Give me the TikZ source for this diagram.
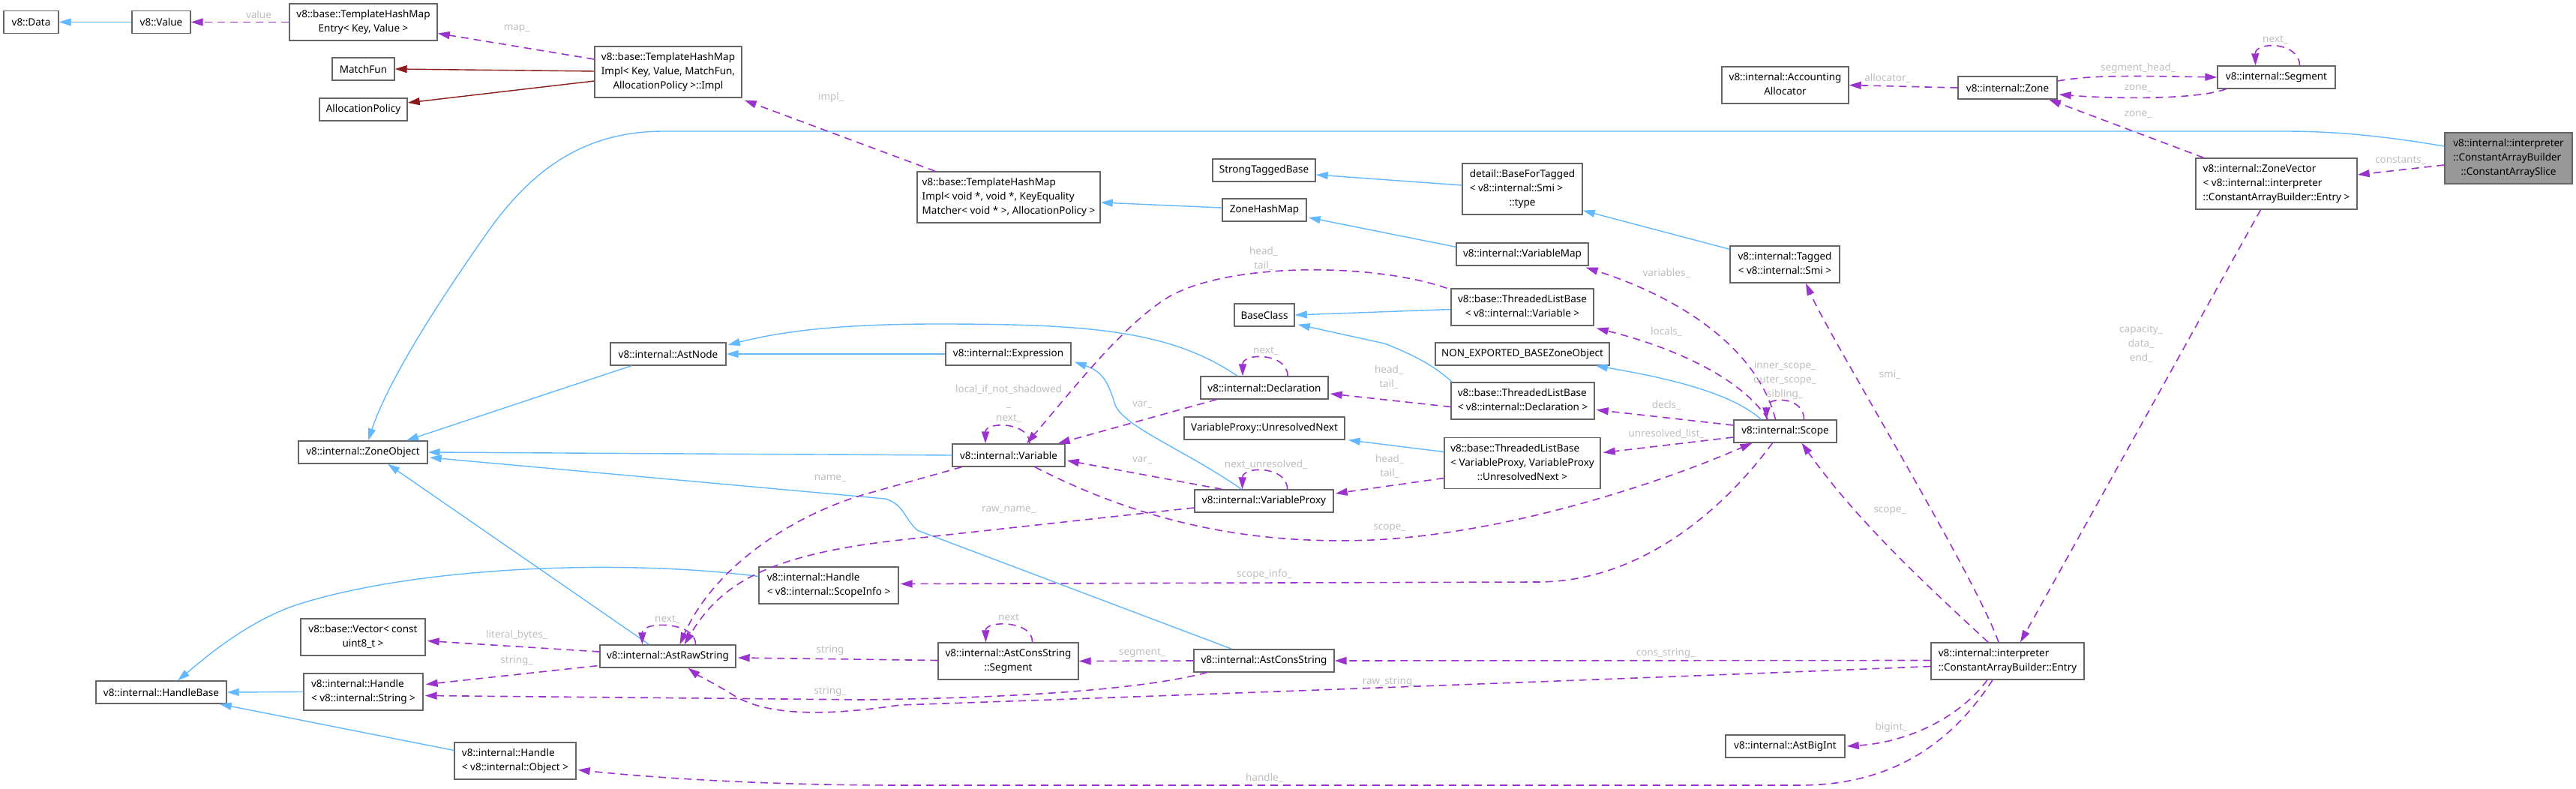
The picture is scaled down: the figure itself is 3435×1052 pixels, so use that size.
\documentclass[tikz,border=0pt]{standalone}
\usepackage{fontspec}
\setmainfont{Noto Sans}
\usetikzlibrary{arrows.meta,calc}
\definecolor{bluec}{RGB}{99,184,255}
\definecolor{purc}{RGB}{154,50,205}
\definecolor{redc}{RGB}{139,26,26}
\definecolor{boxc}{RGB}{102,102,102}
\definecolor{slicec}{RGB}{153,153,153}
\definecolor{lblc}{RGB}{190,190,190}
\newcommand\nf{\fontsize{6.75pt}{9.5pt}\selectfont}
\newcommand\mlines[1]{\begin{tabular}{@{}l@{}}#1\end{tabular}}
\newcommand\lastc[1]{\multicolumn{1}{@{}c@{}}{#1}}
\tikzset{
  cls/.style={draw=boxc, fill=white, line width=0.7pt, inner sep=0pt, font=\nf, text=black},
  lbl/.style={text=lblc, font=\nf, inner sep=0pt, align=center},
  inh/.style={draw=bluec, line width=0.7pt, -{Triangle[length=8pt,width=5pt]}},
  use/.style={draw=purc, line width=0.8pt, dash pattern=on 5pt off 3.5pt, -{Triangle[length=8pt,width=5pt]}},
  tmpl/.style={draw=redc, line width=0.7pt, -{Triangle[length=8pt,width=5pt]}}
}
\newcommand\cnode[6]{\node[cls, minimum width=#4*0.5pt, minimum height=#5*0.5pt] (#1) at (#2,#3) {#6};}
\newcommand\lab[4]{\node[lbl] (#1) at (#2,#3) {#4};}
\begin{document}
\begin{tikzpicture}[x=0.5pt,y=-0.5pt]
\useasboundingbox (0,0) rectangle (3435,1052);
% ---------- nodes ----------
\cnode{data}{41.5}{29.5}{73}{30}{v8::Data}
\cnode{value}{215}{29.5}{78}{30}{v8::Value}
\cnode{thmentry}{484.5}{29.5}{197}{49}{\mlines{v8::base::TemplateHashMap\\ \lastc{Entry< Key, Value >}}}
\cnode{matchfun}{484.5}{92}{83}{30}{MatchFun}
\cnode{allocpol}{484.5}{146}{117}{30}{AllocationPolicy}
\cnode{thmimpl}{891}{96}{196}{68}{\mlines{v8::base::TemplateHashMap\\Impl< Key, Value, MatchFun,\\ \lastc{AllocationPolicy >::Impl}}}
\cnode{thmvoid}{1345}{263}{244}{68}{\mlines{v8::base::TemplateHashMap\\Impl< void *, void *, KeyEquality\\ \lastc{Matcher< void * >, AllocationPolicy >}}}
\cnode{strongtb}{1685.5}{227}{137}{30}{StrongTaggedBase}
\cnode{zonehm}{1686}{280}{112}{30}{ZoneHashMap}
\cnode{bft}{2030}{252}{160}{68}{\mlines{detail::BaseForTagged\\< v8::internal::Smi >\\ \lastc{::type}}}
\cnode{accalloc}{2380.5}{113.5}{169}{49}{\mlines{v8::internal::Accounting\\ \lastc{Allocator}}}
\cnode{zone}{2677}{117}{132}{30}{v8::internal::Zone}
\cnode{segment}{3035.5}{103}{157}{30}{v8::internal::Segment}
\node[cls, fill=slicec, minimum width=85pt, minimum height=34pt] (slice) at (3345,211) {\mlines{v8::internal::interpreter\\::ConstantArrayBuilder\\ \lastc{::ConstantArraySlice}}};
\cnode{zonevector}{3035.5}{245}{215}{68}{\mlines{v8::internal::ZoneVector\\< v8::internal::interpreter\\ \lastc{::ConstantArrayBuilder::Entry >}}}
\cnode{tagged}{2380}{352.5}{146}{49}{\mlines{v8::internal::Tagged\\ \lastc{< v8::internal::Smi >}}}
\cnode{varmap}{2030}{339}{176}{30}{v8::internal::VariableMap}
\cnode{tlbvar}{2030}{409.5}{190}{49}{\mlines{v8::base::ThreadedListBase\\ \lastc{< v8::internal::Variable >}}}
\cnode{baseclass}{1686}{420}{80}{30}{BaseClass}
\cnode{nonexp}{2030}{472}{232}{30}{NON\_EXPORTED\_BASEZoneObject}
\cnode{astnode}{891}{472}{154}{30}{v8::internal::AstNode}
\cnode{expression}{1344.5}{472}{167}{30}{v8::internal::Expression}
\cnode{declaration}{1686}{517}{170}{30}{v8::internal::Declaration}
\cnode{tlbdecl}{2030.5}{534.5}{191}{49}{\mlines{v8::base::ThreadedListBase\\ \lastc{< v8::internal::Declaration >}}}
\cnode{unresnext}{1686}{571}{214}{30}{VariableProxy::UnresolvedNext}
\cnode{tlbvp}{2030}{617.5}{208}{68}{\mlines{v8::base::ThreadedListBase\\< VariableProxy, VariableProxy\\ \lastc{::UnresolvedNext >}}}
\cnode{scope}{2380.5}{575}{137}{30}{v8::internal::Scope}
\cnode{zoneobject}{484}{603}{172}{30}{v8::internal::ZoneObject}
\cnode{variable}{1345}{607}{150}{30}{v8::internal::Variable}
\cnode{varproxy}{1685.5}{668}{185}{30}{v8::internal::VariableProxy}
\cnode{hscopeinfo}{1105}{780.5}{186}{49}{\mlines{v8::internal::Handle\\ \lastc{< v8::internal::ScopeInfo >}}}
\cnode{vector}{484}{849.5}{166}{49}{\mlines{v8::base::Vector< const\\ \lastc{uint8\_t >}}}
\cnode{astraw}{890.5}{875}{181}{30}{v8::internal::AstRawString}
\cnode{handlebase}{215}{923}{174}{30}{v8::internal::HandleBase}
\cnode{hstring}{484.5}{922.5}{159}{49}{\mlines{v8::internal::Handle\\ \lastc{< v8::internal::String >}}}
\cnode{consseg}{1344.5}{881.5}{187}{49}{\mlines{v8::internal::AstConsString\\ \lastc{::Segment}}}
\cnode{astcons}{1685.5}{881}{187}{30}{v8::internal::AstConsString}
\cnode{entry}{2677}{881.5}{204}{49}{\mlines{v8::internal::interpreter\\ \lastc{::ConstantArrayBuilder::Entry}}}
\cnode{bigint}{2380.5}{995}{159}{30}{v8::internal::AstBigInt}
\cnode{hobject}{687}{1014.5}{162}{49}{\mlines{v8::internal::Handle\\ \lastc{< v8::internal::Object >}}}
% ---------- inheritance ----------
\draw[inh] (value.west) -- (data.east);
\draw[inh] ($(slice.west)+(0,-16)$) .. controls (3170,180) and (3110,175) .. (3043,175) -- (886,175) .. controls (790,175) and (720,215) .. (657,300) .. controls (600,380) and (520,500) .. ($(zoneobject.north)+(7,0)$);
\draw[inh] ($(astnode.south)+(-49,0)$) -- ($(zoneobject.north)+(58,0)$);
\draw[inh] (expression.west) -- (astnode.east);
\draw[inh] ($(declaration.north)+(-36,0)$) .. controls (1560,440) and (1450,432) .. (1250,432) .. controls (1100,432) and (1030,445) .. ($(astnode.east)+(2,-12)$);
\draw[inh] (variable.west) -- (zoneobject.east);
\draw[inh] ($(varproxy.north)+(-30,0)$) .. controls (1580,600) and (1500,570) .. (1487,540) .. controls (1478,510) and (1470,495) .. ($(expression.south east)+(4,-5)$);
\draw[inh] ($(astraw.north)+(-25,0)$) -- ($(zoneobject.south)+(33,0)$);
\draw[inh] ($(astcons.north)+(-43,0)$) -- (1223,707) .. controls (1205,690) and (1205,672) .. (1180,665) -- ($(zoneobject.east)+(2,7)$);
\draw[inh] ($(hscopeinfo.west)+(0,-12)$) .. controls (830,745) and (560,755) .. (400,805) .. controls (330,827) and (270,880) .. ($(handlebase.north)+(22,0)$);
\draw[inh] (hstring.west) -- (handlebase.east);
\draw[inh] ($(hobject.west)+(0,-14)$) -- ($(handlebase.south east)+(-10,0)$);
\draw[inh] ($(bft.west)+(0,-5)$) -- ($(strongtb.east)+(0,6)$);
\draw[inh] ($(zonehm.west)+(0,-3)$) -- ($(thmvoid.east)+(0,7)$);
\draw[inh] ($(varmap.north west)+(0,6)$) -- ($(zonehm.east)+(2,10)$);
\draw[inh] ($(tagged.north west)+(0,5)$) -- ($(bft.south east)+(0,-6)$);
\draw[inh] ($(tlbvar.west)+(0,3)$) -- (baseclass.east);
\draw[inh] ($(tlbdecl.north west)+(2,0)$) .. controls (1915,490) and (1890,475) .. (1846,458) -- ($(baseclass.south east)+(4,-3)$);
\draw[inh] ($(tlbvp.west)+(0,-15)$) -- ($(unresnext.south east)+(4,0)$);
\draw[inh] ($(scope.north)+(-32,0)$) .. controls (2310,525) and (2230,505) .. ($(nonexp.south east)+(-19,0)$);
% ---------- template ----------
\draw[tmpl] ($(thmimpl.west)+(0,-1)$) -- (matchfun.east);
\draw[tmpl] ($(thmimpl.west)+(0,12)$) -- ($(allocpol.east)+(0,-9)$);
% ---------- usage ----------
\draw[use] (thmentry.west) -- (value.east);
\draw[use] ($(thmimpl.west)+(0,-17)$) -- ($(thmentry.east)+(0,15)$);
\draw[use] ($(thmvoid.north)+(-98,0)$) -- ($(thmimpl.south east)+(3,3)$);
\draw[use] (zone.west) -- (accalloc.east);
\draw[use] ($(zone.east)+(0,-9)$) .. controls (2790,100) and (2840,101) .. (segment.west);
\draw[use] ($(segment.south west)+(12,0)$) .. controls (2930,133) and (2820,132) .. ($(zone.east)+(2,9)$);
\draw[use] ($(segment.north)+(31,0)$) .. controls (3066,55) and (3007,55) .. ($(segment.north)+(-28,0)$);
\draw[use] ($(zonevector.north)+(-97,0)$) -- ($(zone.south)+(55,0)$);
\draw[use] ($(slice.west)+(0,9)$) -- ($(zonevector.east)+(0,-12)$);
\draw[use] ($(zonevector.south)+(-21,0)$) -- ($(entry.north)+(17,0)$);
\draw[use] ($(entry.north)+(-12,0)$) .. controls (2635,770) and (2440,450) .. ($(tagged.south)+(28,0)$);
\draw[use] ($(entry.north)+(-26,0)$) .. controls (2580,790) and (2480,700) .. ($(scope.south)+(22,0)$);
\draw[use] ($(entry.south)+(-27,0)$) .. controls (2610,960) and (2540,990) .. ($(bigint.east)+(2,0)$);
\draw[use] ($(entry.south)+(-20,0)$) .. controls (2590,1010) and (2500,1047) .. (2400,1047) -- (1200,1047) .. controls (1000,1047) and (850,1035) .. ($(hobject.east)+(2,12)$);
\draw[use] ($(entry.west)+(0,-1)$) -- (astcons.east);
\draw[use] ($(entry.west)+(0,7)$) .. controls (2300,900) and (1500,930) .. (1200,940) .. controls (1100,955) and (1020,955) .. (975,925) .. controls (950,910) and (930,900) .. ($(astraw.south)+(27,0)$);
\draw[use] ($(astcons.south)+(-76,0)$) .. controls (1540,915) and (1400,930) .. (1150,933) -- ($(hstring.east)+(2,5)$);
\draw[use] ($(consseg.west)+(0,-1)$) -- ($(astraw.east)+(2,2)$);
\draw[use] (astcons.west) -- (consseg.east);
\draw[use] ($(consseg.north)+(32,0)$) .. controls (1378,827) and (1314,827) .. ($(consseg.north)+(-30,0)$);
\draw[use] ($(astraw.west)+(0,-6)$) -- ($(vector.east)+(2,5)$);
\draw[use] ($(astraw.south west)+(-3,-3)$) -- ($(hstring.east)+(3,-10)$);
\draw[use] ($(astraw.north)+(37,0)$) .. controls (928,828) and (856,828) .. ($(astraw.north)+(-34,0)$);
\draw[use] ($(variable.south west)+(13,0)$) -- (1150,660) .. controls (1050,690) and (950,760) .. ($(astraw.north)+(16,0)$);
\draw[use] ($(varproxy.west)+(0,9)$) -- (1200,720) .. controls (1020,740) and (960,780) .. ($(astraw.north)+(22,0)$);
\draw[use] ($(variable.north)+(28,0)$) .. controls (1373,562) and (1314,562) .. ($(variable.north)+(-31,0)$);
\draw[use] ($(tlbvar.north west)+(-5,0)$) .. controls (1830,350) and (1640,350) .. (1560,395) .. controls (1500,430) and (1430,520) .. ($(variable.north)+(24,0)$);
\draw[use] ($(declaration.south west)+(22,0)$) -- ($(variable.north east)+(-10,0)$);
\draw[use] ($(declaration.north)+(31,0)$) .. controls (1717,470) and (1657,470) .. ($(declaration.north)+(-29,0)$);
\draw[use] ($(tlbdecl.west)+(0,8)$) -- ($(declaration.east)+(2,8)$);
\draw[use] ($(varproxy.north west)+(37,0)$) -- ($(variable.east)+(2,7)$);
\draw[use] ($(varproxy.north)+(31,0)$) .. controls (1717,621) and (1657,621) .. ($(varproxy.north)+(-29,0)$);
\draw[use] ($(tlbvp.west)+(0,20)$) -- ($(varproxy.east)+(2,-10)$);
\draw[use] ($(scope.north)+(-13,0)$) .. controls (2345,470) and (2250,400) .. ($(varmap.south east)+(-4,2)$);
\draw[use] ($(scope.north)+(-23,0)$) .. controls (2320,500) and (2220,460) .. ($(tlbvar.south east)+(3,3)$);
\draw[use] ($(scope.west)+(0,-8)$) -- ($(tlbdecl.east)+(2,12)$);
\draw[use] ($(scope.west)+(0,8)$) -- ($(tlbvp.east)+(3,-14)$);
\draw[use] ($(scope.north)+(25,0)$) .. controls (2406,528) and (2355,528) .. ($(scope.north)+(-25,0)$);
\draw[use] ($(variable.south)+(35,0)$) .. controls (1550,710) and (1700,725) .. (1830,720) .. controls (2000,712) and (2200,650) .. ($(scope.south)+(-44,0)$);
\draw[use] ($(scope.south)+(-17,0)$) .. controls (2290,690) and (2180,776) .. (2050,776) -- ($(hscopeinfo.east)+(2,-2)$);
% ---------- labels ----------
\lab{l1}{345}{19}{value}
\lab{l2}{689}{38}{map\_}
\lab{l3}{1108}{130}{impl\_}
\lab{l4}{2517}{104}{allocator\_}
\lab{l5}{2851}{91}{segment\_head\_}
\lab{l6}{2851}{118}{zone\_}
\lab{l7}{3034}{53}{next\_}
\lab{l8}{2851}{153}{zone\_}
\lab{l9}{3201}{214}{constants\_}
\lab{l10}{2855}{459}{capacity\_\\data\_\\end\_}
\lab{l11}{2520}{500}{smi\_}
\lab{l12}{2520}{681}{scope\_}
\lab{l13}{2522}{970}{bigint\_}
\lab{l14}{1686}{1037}{handle\_}
\lab{l15}{2221}{871}{cons\_string\_}
\lab{l16}{1853}{909}{raw\_string\_}
\lab{l17}{1107}{922}{string\_}
\lab{l18}{1107}{867}{string}
\lab{l19}{1523}{871}{segment\_}
\lab{l20}{1345}{823}{next}
\lab{l21}{689}{847}{literal\_bytes\_}
\lab{l22}{689}{881}{string\_}
\lab{l23}{890}{826}{next\_}
\lab{l24}{1107}{638}{name\_}
\lab{l25}{1345}{680}{raw\_name\_}
\lab{l26}{1345}{538}{local\_if\_not\_shadowed\\\_\\next\_}
\lab{l27}{1685}{345}{head\_\\tail\_}
\lab{l28}{1523}{540}{var\_}
\lab{l29}{1688}{468}{next\_}
\lab{l30}{1852}{503}{head\_\\tail\_}
\lab{l31}{1523}{614}{var\_}
\lab{l32}{1688}{619}{next\_unresolved\_}
\lab{l33}{1853}{622}{head\_\\tail\_}
\lab{l34}{2222}{364}{variables\_}
\lab{l35}{2222}{442}{locals\_}
\lab{l36}{2222}{540}{decls\_}
\lab{l37}{2222}{578}{unresolved\_list\_}
\lab{l38}{2380}{507}{inner\_scope\_\\outer\_scope\_\\sibling\_}
\lab{l39}{1853}{704}{scope\_}
\lab{l40}{1686}{766}{scope\_info\_}
\end{tikzpicture}
\end{document}
